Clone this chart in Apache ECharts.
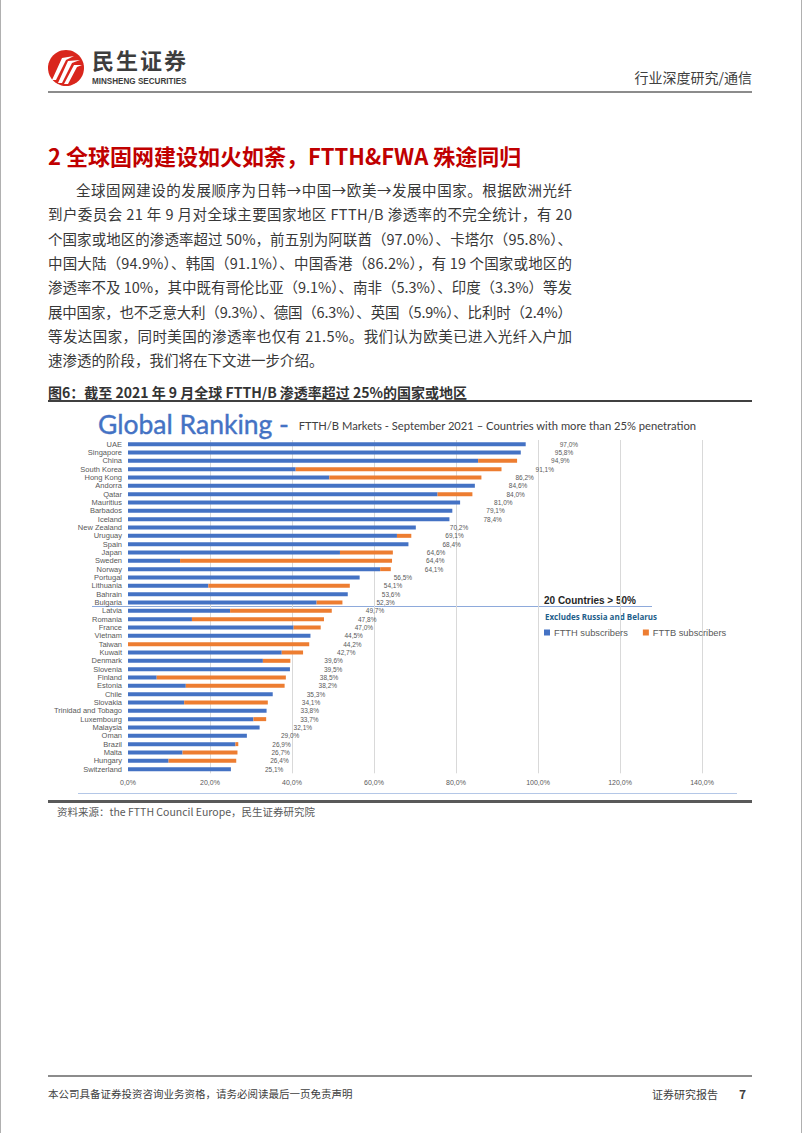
<!DOCTYPE html>
<html><head><meta charset="utf-8">
<script src="https://cdn.jsdelivr.net/npm/echarts/dist/echarts.min.js"></script>
<style>
html,body{margin:0;padding:0;background:#fff;}
#page{position:relative;width:802px;height:1133px;overflow:hidden;background:#fff;}
#chart{position:absolute;left:0;top:0;width:802px;height:1133px;}
.t{position:absolute;white-space:nowrap;font-family:"Noto Sans CJK SC","Noto Sans",sans-serif;}
.rule{position:absolute;}
</style></head>
<body><div id="page">
<div id="chart"></div>
<div class="rule" style="left:0;top:0;width:1px;height:1133px;background:#b0b0b0"></div>
<div class="rule" style="left:801px;top:0;width:1px;height:1133px;background:#b0b0b0"></div>
<div class="t" style="left:92px;top:44px;font-size:22px;line-height:30px;font-weight:700;color:#3d3d3d;letter-spacing:2px">民生证券</div>
<div class="t" style="left:92px;top:76px;font-size:9px;line-height:10px;font-weight:700;color:#3d3d3d;font-family:'Liberation Sans';transform:scaleX(0.9);transform-origin:left top">MINSHENG SECURITIES</div>
<div class="t" style="right:50px;top:67px;font-size:14px;color:#404040">行业深度研究/通信</div>
<div class="rule" style="left:48px;top:91px;width:704px;height:2px;background:#8c8c8c"></div>
<div class="t" style="left:48px;top:139px;font-size:22px;font-weight:700;color:#c00000">2 全球固网建设如火如荼，FTTH&amp;FWA 殊途同归</div>
<div id="para"></div>
<div class="t" style="left:48px;top:382px;font-size:14px;font-weight:700;color:#333">图6：截至 2021 年 9 月全球 FTTH/B 渗透率超过 25%的国家或地区</div>
<div class="rule" style="left:48px;top:400px;width:704px;height:1.5px;background:#404040"></div>
<div class="rule" style="left:78px;top:793px;width:659px;height:1px;background:#b4c7e7"></div>
<div class="rule" style="left:48px;top:800px;width:704px;height:2.5px;background:#595959"></div>
<div class="t" style="left:57px;top:804px;font-size:10.5px;color:#595959">资料来源：the FTTH Council Europe，民生证券研究院</div>
<div class="rule" style="left:48px;top:1075px;width:704px;height:1.5px;background:#8c8c8c"></div>
<div class="t" style="left:48px;top:1086px;font-size:10.5px;color:#404040">本公司具备证券投资咨询业务资格，请务必阅读最后一页免责声明</div>
<div class="t" style="left:652px;top:1086px;font-size:11px;color:#404040">证券研究报告</div>
<div class="t" style="left:739px;top:1085px;font-size:12px;font-weight:700;color:#404040">7</div>
</div>
<script>
// ---------- page text ----------
const paragraphLines = [
  '全球固网建设的发展顺序为日韩→中国→欧美→发展中国家。根据欧洲光纤',
  '到户委员会 21 年 9 月对全球主要国家地区 FTTH/B 渗透率的不完全统计，有 20',
  '个国家或地区的渗透率超过 50%，前五别为阿联酋（97.0%）、卡塔尔（95.8%）、',
  '中国大陆（94.9%）、韩国（91.1%）、中国香港（86.2%），有 19 个国家或地区的',
  '渗透率不及 10%，其中既有哥伦比亚（9.1%）、南非（5.3%）、印度（3.3%）等发',
  '展中国家，也不乏意大利（9.3%）、德国（6.3%）、英国（5.9%）、比利时（2.4%）',
  '等发达国家，同时美国的渗透率也仅有 21.5%。我们认为欧美已进入光纤入户加',
  '速渗透的阶段，我们将在下文进一步介绍。'
];
const para = document.getElementById('para');
const rightEdge = 572;
paragraphLines.forEach((s, i) => {
  const d = document.createElement('div');
  const last = i === paragraphLines.length - 1;
  d.className = 't';
  const left = i === 0 ? 76 : 48;
  d.style.cssText = 'left:' + left + 'px;top:' + (179 + i * 24.3) + 'px;font-size:14.5px;color:#383838;';
  d.textContent = s;
  para.appendChild(d);
  if (!last) {
    const w = d.getBoundingClientRect().width;
    const n = s.length;
    const ls = (rightEdge - left - w) / (n - 1);
    d.style.letterSpacing = ls.toFixed(3) + 'px';
  }
});

// ---------- chart data ----------
const categories = ['UAE','Singapore','China','South Korea','Hong Kong','Andorra','Qatar','Mauritius','Barbados','Iceland',
  'New Zealand','Uruguay','Spain','Japan','Sweden','Norway','Portugal','Lithuania','Bahrain','Bulgaria',
  'Latvia','Romania','France','Vietnam','Taiwan','Kuwait','Denmark','Slovenia','Finland','Estonia',
  'Chile','Slovakia','Trinidad and Tobago','Luxembourg','Malaysia','Oman','Brazil','Malta','Hungary','Switzerland'];
const ftth = [97.0,95.8,85.4,40.9,49.1,84.6,75.5,81.0,79.1,78.4,
  70.2,65.6,68.4,51.7,12.7,61.5,56.5,19.6,53.6,46.0,
  24.9,15.6,40.4,44.5,0,37.5,32.9,39.5,7.0,14.1,
  35.3,13.7,33.8,30.6,32.1,29.0,26.2,13.3,9.9,25.1];
const fttb = [0,0,9.5,50.2,37.1,0,8.5,0,0,0,
  0,3.5,0,12.9,51.7,2.6,0,34.5,0,6.3,
  24.8,32.2,6.6,0,44.2,5.2,6.7,0,31.5,24.1,
  0,20.4,0,3.1,0,0,0.7,13.4,16.5,0];
const totals = [97.0,95.8,94.9,91.1,86.2,84.6,84.0,81.0,79.1,78.4,
  70.2,69.1,68.4,64.6,64.4,64.1,56.5,54.1,53.6,52.3,
  49.7,47.8,47.0,44.5,44.2,42.7,39.6,39.5,38.5,38.2,
  35.3,34.1,33.8,33.7,32.1,29.0,26.9,26.7,26.4,25.1];
const xMin = 0, xMax = 140, xStep = 20;
const seriesNames = ['FTTH subscribers','FTTB subscribers'];
const titleMain = 'Global Ranking - ';
const titleSub = 'FTTH/B Markets - September 2021 \u2013 Countries with more than 25% penetration';
const noteTop = '20 Countries > 50%';
const noteSub = 'Excludes Russia and Belarus';

const fmt = v => v.toFixed(1).replace('.', ',') + '%';

const chart = echarts.init(document.getElementById('chart'), null, {renderer: 'svg'});
chart.setOption({
  animation: false,
  backgroundColor: 'transparent',
  title: {
    left: 93, top: 405,
    text: '{a|' + titleMain + '}{b|' + titleSub + '}',
    textStyle: {
      fontWeight: 'normal',
      rich: {
        a: {fontFamily: 'Lato', fontSize: 26.5, fontWeight: 'normal', color: '#4472c4', verticalAlign: 'bottom',
            textBorderColor: '#4472c4', textBorderWidth: 0.4},
        b: {fontFamily: 'Lato', fontSize: 11.2, fontWeight: 'normal', color: '#404040', verticalAlign: 'bottom', padding: [0, 0, 6, 3]}
      }
    }
  },
  legend: {
    data: seriesNames, left: 544, top: 628, padding: 0, icon: 'rect', itemWidth: 6, itemHeight: 6, itemGap: 15,
    textStyle: {fontFamily: 'Liberation Sans', fontSize: 9.3, color: '#595959', padding: [0, 0, 0, -1]}
  },
  grid: {left: 128, right: 100, top: 440, height: 333.3, containLabel: false},
  xAxis: {
    type: 'value', min: xMin, max: xMax, interval: xStep,
    axisLine: {show: false}, axisTick: {show: false},
    splitLine: {show: true, showMinLine: false, lineStyle: {color: '#d9d9d9', width: 1}},
    axisLabel: {formatter: v => fmt(v), fontFamily: 'Liberation Sans', fontSize: 7, color: '#595959', margin: 6}
  },
  yAxis: {
    type: 'category', inverse: true, data: categories,
    axisLine: {show: false}, axisTick: {show: false},
    axisLabel: {fontFamily: 'Liberation Sans', fontSize: 7.5, color: '#595959', margin: 6, interval: 0}
  },
  series: [
    {name: seriesNames[0], type: 'bar', stack: 's', data: ftth, barWidth: 4,
     itemStyle: {color: '#4472c4'}},
    {name: seriesNames[1], type: 'bar', stack: 's', data: fttb, barWidth: 4,
     itemStyle: {color: '#ed7d31'},
     label: {show: true, position: 'right', distance: 34, formatter: p => fmt(totals[p.dataIndex]),
       fontFamily: 'Liberation Sans', fontSize: 6.5, color: '#595959'}}
  ],
  graphic: [
    {type: 'circle', shape: {cx: 66, cy: 68, r: 18}, style: {fill: '#d9261c'}},
    {type: 'polygon', shape: {points: [[52,80],[56,80],[66,60],[74,56],[62,58]]}, style: {fill: '#fff'}},
    {type: 'polygon', shape: {points: [[58,83],[62,83],[72,63],[80,60],[68,61]]}, style: {fill: '#fff'}},
    {type: 'polygon', shape: {points: [[64,84],[68,84],[77,67],[82,65],[74,65]]}, style: {fill: '#fff'}},
    {type: 'line', shape: {x1: 92, y1: 606.5, x2: 652, y2: 606.5}, style: {stroke: '#8eaadb', lineWidth: 1}},
    {type: 'text', left: 544, top: 595, style: {text: noteTop, font: 'bold 10px "Liberation Sans"', fill: '#262626'}},
    {type: 'text', left: 545, top: 612, style: {text: noteSub, font: 'bold 8px "Open Sans"', fill: '#1f5f8b'}}
  ]
});
</script>
</body></html>
